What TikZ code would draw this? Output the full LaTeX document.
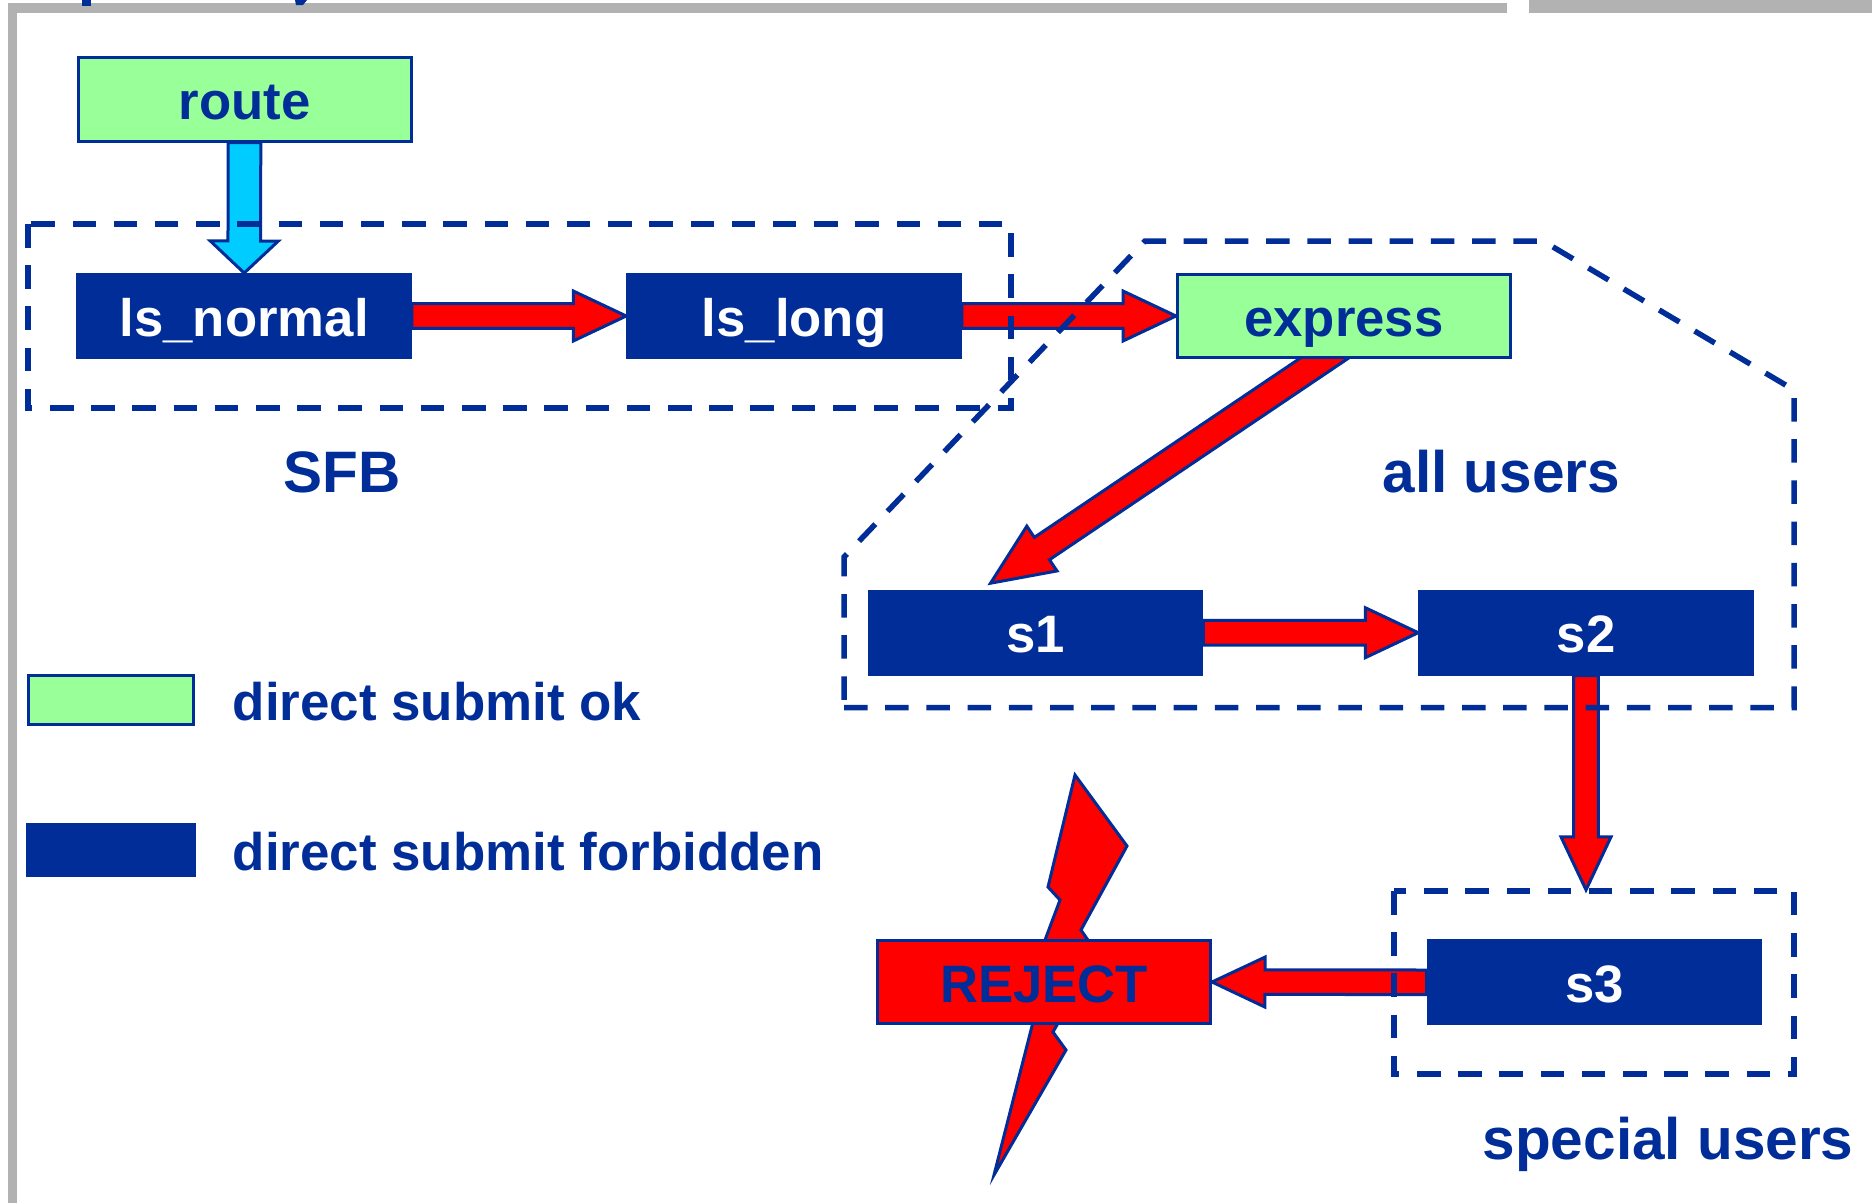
\documentclass[tikz,border=0pt]{standalone}
\usepackage{fontspec}
\setmainfont{Liberation Sans}
\usetikzlibrary{calc}
\definecolor{navy}{RGB}{0,45,152}
\definecolor{okgreen}{RGB}{153,255,153}
\definecolor{skyc}{RGB}{0,204,255}
\definecolor{framegray}{RGB}{178,178,178}
\pgfdeclarelayer{under}
\pgfsetlayers{under,main}
\tikzset{
  boxbase/.style={rectangle,inner sep=0pt,minimum width=335.5pt,minimum height=86pt,
     text height=46.4pt,text depth=6pt,font=\fontsize{52.7}{60}\selectfont\bfseries},
  okbox/.style={boxbase,draw=navy,line width=3pt,fill=okgreen,text=navy,minimum width=333pt,minimum height=83.5pt},
  badbox/.style={boxbase,fill=navy,text=white,outer sep=0pt},
  rejbox/.style={boxbase,draw=navy,line width=3pt,fill=red,text=navy,minimum width=333pt,minimum height=83.5pt},
  grouplabel/.style={anchor=base west,inner sep=0pt,text=navy,font=\fontsize{58.5}{64}\selectfont\bfseries},
  legendlabel/.style={anchor=base west,inner sep=0pt,text=navy,font=\fontsize{52.9}{60}\selectfont\bfseries},
  groupline/.style={draw=navy,line width=5.5pt,dash pattern=on 23.5pt off 17.7pt},
  arrowline/.style={draw=navy,line width=3pt,line join=miter},
}
% from, to, shaft half width, head length, head half width, fill
\newcommand\blockarrow[6]{%
  \begin{pgfonlayer}{under}
  \path[arrowline,fill=#6]
    ($(#1)!#3pt!90:(#2)$) -- ($(#2)!#4pt!(#1)!#3pt!-90:(#1)$) -- ($(#2)!#4pt!(#1)!#5pt!-90:(#1)$) --
    (#2) -- ($(#2)!#4pt!(#1)!#5pt!90:(#1)$) -- ($(#2)!#4pt!(#1)!#3pt!90:(#1)$) -- ($(#1)!#3pt!-90:(#2)$) -- cycle;
  \end{pgfonlayer}}
\begin{document}
\begin{tikzpicture}[x=1pt,y=-1pt]
\useasboundingbox (0,0) rectangle (1872,1203);
% frame
\fill[framegray] (8.3,3.3) rectangle (1507,12.7);
\fill[framegray] (8.3,3.3) rectangle (16.7,1203);
\fill[framegray] (1529,0) rectangle (1872,13);
% clipped title descenders
\fill[navy] (82,0) rectangle (90.5,6);
\fill[navy] (295,0) -- (307,0) -- (303,5) -- (296,5) -- cycle;
% nodes
\node[okbox] (route) at (244.5,99.3) {route};
\node[badbox] (lsnormal) at (244.2,316) {ls\_normal};
\node[badbox] (lslong) at (794,316) {ls\_long};
\node[okbox] (express) at (1344,316) {express};
\node[badbox] (s1) at (1035.5,632.7) {s1};
\node[badbox] (s2) at (1586,632.7) {s2};
\node[badbox] (s3) at (1594.3,982.3) {s3};
% lightning behind REJECT
\filldraw[arrowline,fill=red] (1075,775) -- (1127,846) -- (1081,930) -- (1090,943) -- (1057,1025) -- (1053,1032) -- (1066,1050) -- (994,1175) -- (1045,975) -- (1045,940) -- (1060,900) -- (1048,887) -- cycle;
\node[rejbox] (reject) at (1044,982) {REJECT};
% connectors
\blockarrow{route.south}{lsnormal.north}{16.3}{32}{34}{skyc}
\blockarrow{lsnormal.east}{lslong.west}{12.3}{53}{25}{red}
\blockarrow{lslong.east}{express.west}{12.3}{53}{25}{red}
\coordinate (expfoot) at ($(express.south)+(-2,-13)$);
\coordinate (s1tip) at ($(s1.north)+(-45,-6.5)$);
\blockarrow{expfoot}{s1tip}{13.5}{62}{27}{red}
\blockarrow{s1.east}{s2.west}{12.3}{53}{25}{red}
\coordinate (s3top) at ($(s3.north)+(-8.3,-49.4)$);
\blockarrow{s2.south}{s3top}{12.3}{53}{25}{red}
\blockarrow{s3.west}{reject.east}{12.3}{53}{25}{red}
% groups
\draw[groupline] (28,224) -- (28,408) -- (1011,408) -- (1011,224) -- cycle;
\draw[groupline] (844,707.5) -- (1794,707.5) -- (1794,390) -- (1543,241) -- (1145,241) -- (844,557) -- cycle;
\draw[groupline] (1394,891) -- (1394,1074) -- (1794,1074) -- (1794,891) -- cycle;
\node[grouplabel] (sfb) at (283.5,492) {SFB};
\node[grouplabel] (allusers) at (1382.5,492) {all users};
\node[grouplabel] (special) at (1482.5,1159.5) {special users};
% legend
\node[rectangle,draw=navy,line width=3pt,fill=okgreen,inner sep=0pt,minimum width=165.5pt,minimum height=48.5pt] (legok) at (111,700) {};
\node[rectangle,fill=navy,inner sep=0pt,outer sep=0pt,minimum width=170pt,minimum height=54pt] (legbad) at (111,849.5) {};
\node[legendlabel] (oktext) at (232.5,720) {direct submit ok};
\node[legendlabel] (badtext) at (232.5,870.5) {direct submit forbidden};
\end{tikzpicture}
\end{document}
